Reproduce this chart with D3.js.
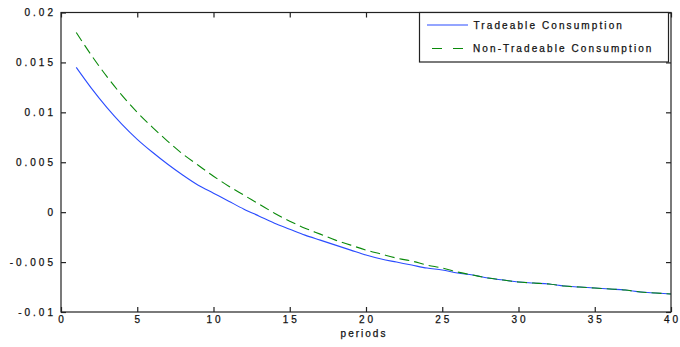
<!DOCTYPE html>
<html>
<head>
<meta charset="utf-8">
<script src="https://cdn.jsdelivr.net/npm/d3@7"></script>
<style>
  html, body { margin: 0; padding: 0; background: #fff; }
  svg { display: block; }
  text { font-family: "Liberation Sans", Arial, Helvetica, sans-serif; fill: #111; stroke: #111; stroke-width: 0.25px; }
</style>
</head>
<body>
<svg id="chart" width="680" height="347"></svg>
<script>
const periods = d3.range(1, 41);
const tradeable = [
  0.0145, 0.0124, 0.0105, 0.0088, 0.0073, 0.0060, 0.0048, 0.0037, 0.0027, 0.0019,
  0.0011, 0.0003, -0.0004, -0.0011, -0.0017, -0.0023, -0.0028, -0.0033, -0.0038, -0.0043,
  -0.0047, -0.0050, -0.0053, -0.0056, -0.0058, -0.0061, -0.0063, -0.0066, -0.0068, -0.0070,
  -0.0071, -0.0072, -0.0074, -0.0075, -0.0076, -0.0077, -0.0078, -0.0080, -0.0081, -0.0082
];
const nonTradeable = [
  0.0180, 0.0157, 0.0136, 0.0117, 0.0100, 0.0085, 0.0071, 0.0058, 0.0047, 0.0036,
  0.0026, 0.0017, 0.0008, -0.0001, -0.0009, -0.0016, -0.0022, -0.0028, -0.0033, -0.0038,
  -0.0042, -0.0046, -0.0049, -0.0053, -0.0056, -0.0060, -0.0063, -0.0066, -0.0068, -0.0070,
  -0.0071, -0.0072, -0.0074, -0.0075, -0.0076, -0.0077, -0.0078, -0.0080, -0.0081, -0.0082
];
const seriesNames = ["Tradeable Consumption", "Non-Tradeable Consumption"];
const xTicks = [0, 5, 10, 15, 20, 25, 30, 35, 40];
const yTicks = [-0.01, -0.005, 0, 0.005, 0.01, 0.015, 0.02];
const yTickLabels = ["-0.01", "-0.005", "0", "0.005", "0.01", "0.015", "0.02"];
const xLabel = "periods";

const svg = d3.select("#chart");
const L = 61, R = 671, T = 12.5, B = 312;
const x = d3.scaleLinear().domain([0, 40]).range([L, R]);
const y = d3.scaleLinear().domain([-0.01, 0.02]).range([B, T]);

// lines
const line = d3.line().curve(d3.curveMonotoneX).x((d, i) => x(periods[i])).y(d => y(d));
svg.append("path").datum(tradeable)
  .attr("fill", "none").attr("stroke", "#2a4cff").attr("stroke-width", 1.1)
  .attr("d", line);
svg.append("path").datum(nonTradeable)
  .attr("fill", "none").attr("stroke", "#0a8a0a").attr("stroke-width", 1.1)
  .attr("stroke-dasharray", "10,5")
  .attr("d", line);

// axes box
const axisColor = "#222";
svg.append("rect").attr("x", L).attr("y", T).attr("width", R - L).attr("height", B - T)
  .attr("fill", "none").attr("stroke", axisColor).attr("stroke-width", 1.2);

// ticks (inward) using axis generators
const tickLen = 5;
const gB = svg.append("g").attr("transform", `translate(0,${B})`)
  .call(d3.axisTop(x).tickValues(xTicks).tickSize(tickLen).tickFormat(""));
const gT = svg.append("g").attr("transform", `translate(0,${T})`)
  .call(d3.axisBottom(x).tickValues(xTicks).tickSize(tickLen).tickFormat(""));
const gL = svg.append("g").attr("transform", `translate(${L},0)`)
  .call(d3.axisRight(y).tickValues(yTicks).tickSize(tickLen).tickFormat(""));
const gR = svg.append("g").attr("transform", `translate(${R},0)`)
  .call(d3.axisLeft(y).tickValues(yTicks).tickSize(tickLen).tickFormat(""));
[gB, gT, gL, gR].forEach(g => {
  g.select(".domain").remove();
  g.selectAll("line").attr("stroke", axisColor).attr("stroke-width", 1.2);
});

// tick labels
svg.append("g").selectAll("text").data(xTicks).join("text")
  .attr("x", d => x(d) + 1.5).attr("y", 323)
  .attr("text-anchor", "middle")
  .style("font-size", "10px").style("letter-spacing", "3px")
  .text(d => d);
svg.append("g").selectAll("text").data(yTicks).join("text")
  .attr("x", 56).attr("y", d => y(d) + 3.5)
  .attr("text-anchor", "end")
  .style("font-size", "10px").style("letter-spacing", "3px")
  .text((d, i) => yTickLabels[i]);

// x label
svg.append("text").attr("x", 364).attr("y", 337)
  .attr("text-anchor", "middle")
  .style("font-size", "10px").style("letter-spacing", "2px")
  .text(xLabel);

// legend
const lg = svg.append("g");
lg.append("rect").attr("x", 419.5).attr("y", T).attr("width", 249).attr("height", 49.5)
  .attr("fill", "#fff").attr("stroke", axisColor).attr("stroke-width", 1.2);
lg.append("line").attr("x1", 427).attr("x2", 468).attr("y1", 25).attr("y2", 25)
  .attr("stroke", "#2a4cff").attr("stroke-width", 1.1);
lg.append("line").attr("x1", 432).attr("x2", 463).attr("y1", 48.5).attr("y2", 48.5)
  .attr("stroke", "#0a8a0a").attr("stroke-width", 1.1).attr("stroke-dasharray", "10,11");
lg.selectAll("text.leg").data(seriesNames).join("text")
  .attr("class", "leg")
  .attr("x", (d, i) => i === 0 ? 473.5 : 473)
  .attr("y", (d, i) => i === 0 ? 29 : 52)
  .style("font-size", "10px").style("letter-spacing", "2.1px")
  .text(d => d);
</script>
</body>
</html>
